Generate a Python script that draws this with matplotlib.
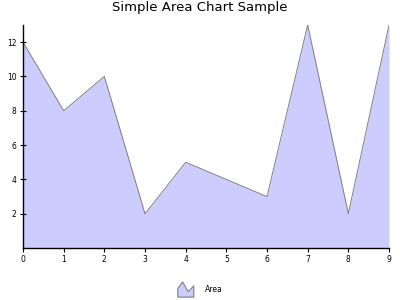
import matplotlib
matplotlib.use('Agg')
import matplotlib.pyplot as plt
from matplotlib.legend_handler import HandlerBase
from matplotlib.patches import Polygon, Patch

x = [0, 1, 2, 3, 4, 5, 6, 7, 8, 9]
values = [12, 8, 10, 2, 5, 4, 3, 13, 2, 13]
series_name = 'Area'
title = 'Simple Area Chart Sample'


class AreaIcon(HandlerBase):
    def create_artists(self, legend, orig, xd, yd, w, h, fontsize, trans):
        pts = [(0, 0), (0, 0.55 * h), (0.3 * w, h), (0.65 * w, 0.35 * h),
               (w, 0.75 * h), (w, 0)]
        p = Polygon([(a - xd, b - yd) for a, b in pts], closed=True,
                    facecolor='#ccccff', edgecolor='#808080', lw=0.8,
                    transform=trans)
        return [p]


fig = plt.figure(figsize=(4, 3), dpi=100)
ax = fig.add_axes([0.0575, 0.173, 0.915, 0.744])

ax.fill_between(x, values, 0, color='#ccccff', lw=0)
ax.plot(x, values, color='#808080', lw=0.7)

ax.set_xlim(0, 9)
ax.set_ylim(0, 13)
ax.set_xticks(x)
ax.set_yticks([2, 4, 6, 8, 10, 12])
ax.tick_params(labelsize=5.5, length=3, width=0.8, pad=2)
ax.tick_params(axis='y', direction='inout', length=5)
for s in ['top', 'right']:
    ax.spines[s].set_visible(False)
for s in ['left', 'bottom']:
    ax.spines[s].set_linewidth(1)

fig.suptitle(title, y=0.995, fontsize=9.5)

fig.legend([Patch()], [series_name], handler_map={Patch: AreaIcon()},
           loc='center', bbox_to_anchor=(0.5, 0.035), frameon=False,
           fontsize=5.5, handlelength=2.1, handleheight=2.7, handletextpad=1.4)

fig.savefig('out.png', dpi=100)
